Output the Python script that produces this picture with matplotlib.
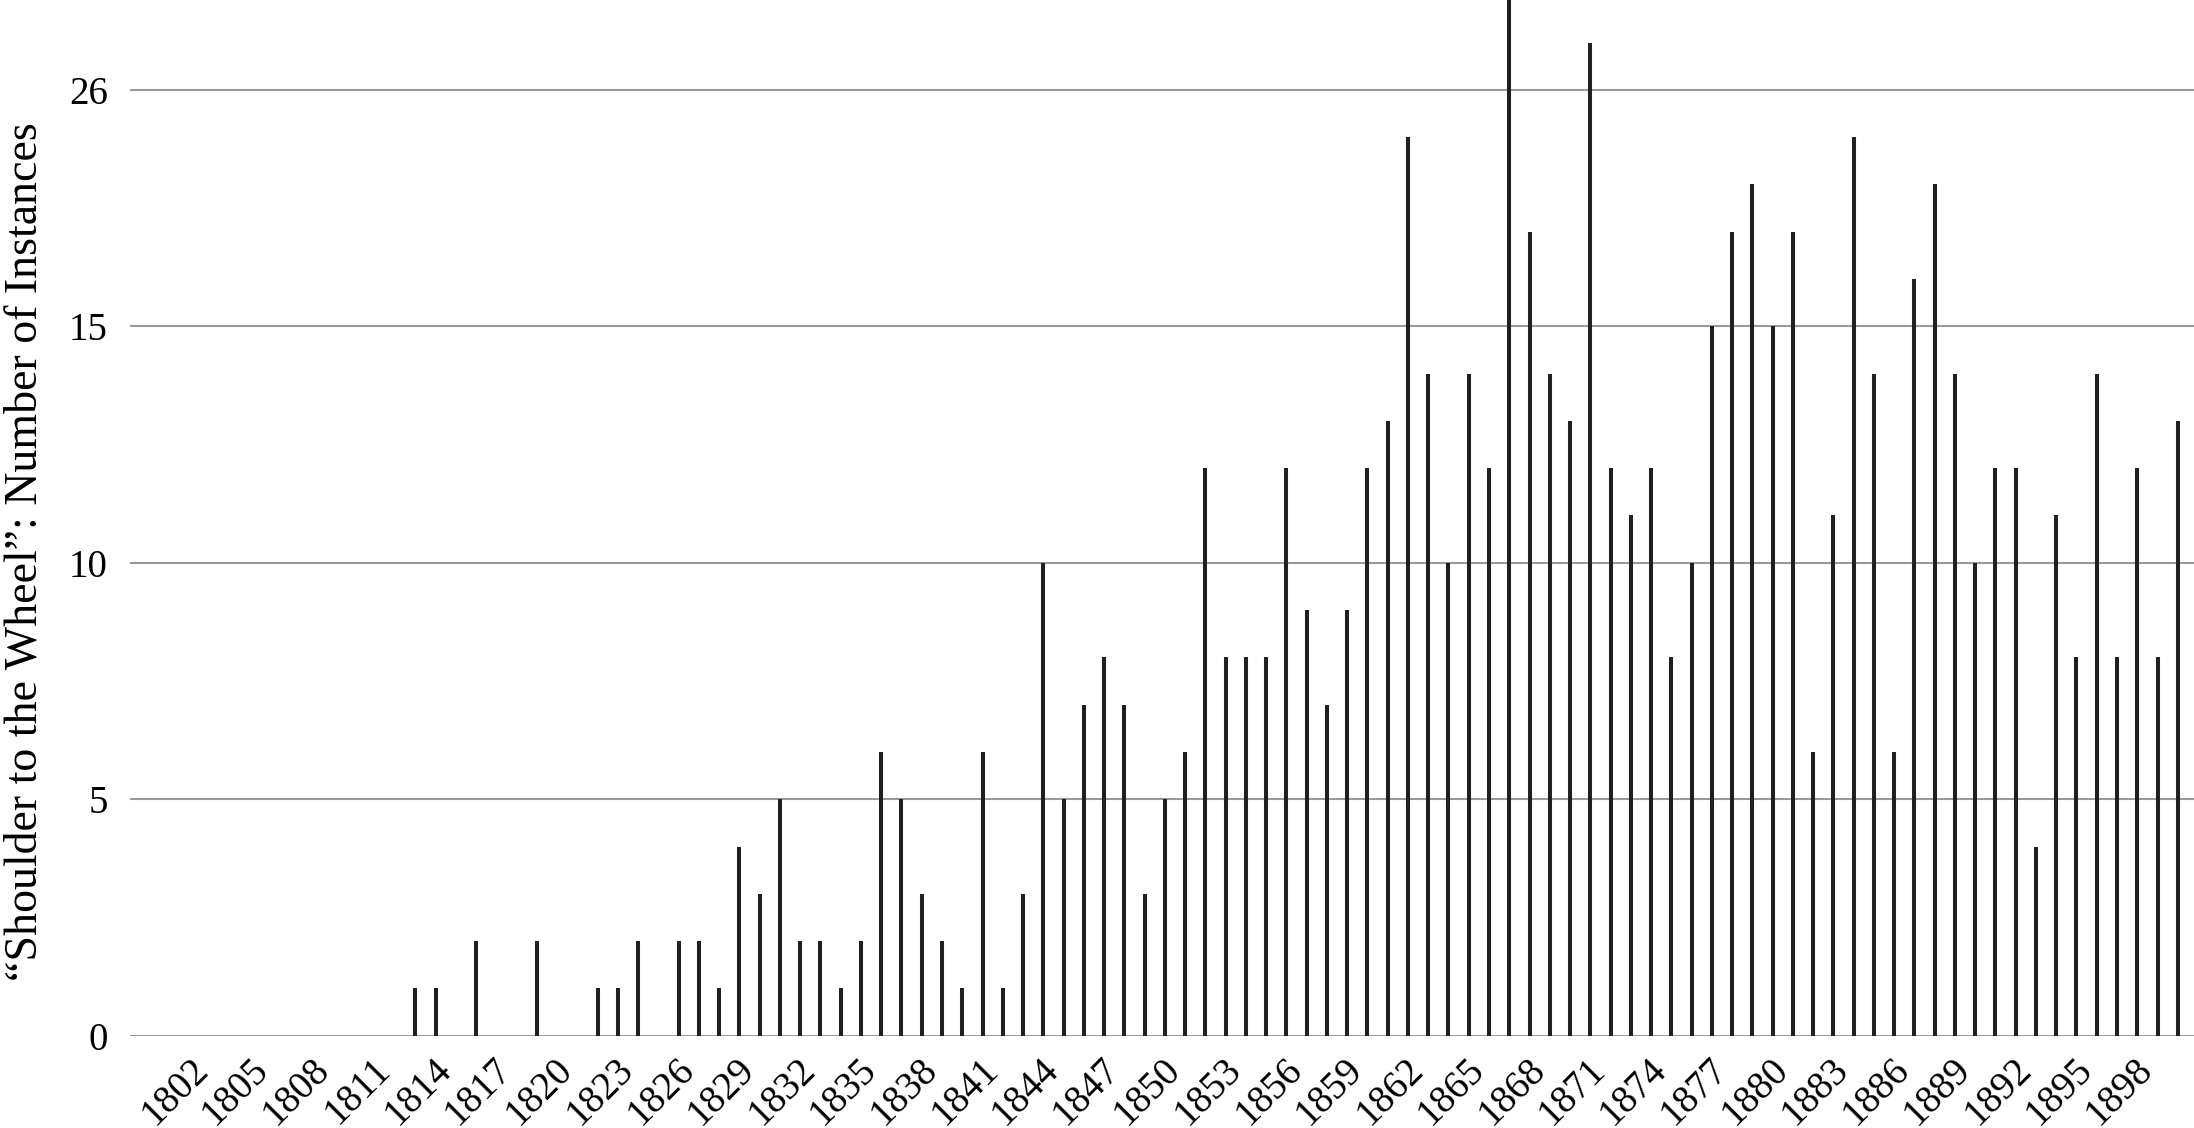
import matplotlib
matplotlib.use("Agg")
import matplotlib.pyplot as plt
import matplotlib.transforms as mtransforms
import numpy as np

# counts per year, 1802-1900
years = np.arange(1802, 1901)
counts = [0] * 11 + [  # 1802-1812
    1, 1, 0, 2, 0, 0, 2, 0, 0, 1,   # 1813-1822
    1, 2, 0, 2, 2, 1, 4, 3, 5, 2,   # 1823-1832
    2, 1, 2, 6, 5, 3, 2, 1, 6, 1,   # 1833-1842
    3, 10, 5, 7, 8, 7, 3, 5, 6, 12,  # 1843-1852
    8, 8, 8, 12, 9, 7, 9, 12, 13, 19,  # 1853-1862
    14, 10, 14, 12, 22, 17, 14, 13, 21, 12,  # 1863-1872
    11, 12, 8, 10, 15, 17, 18, 15, 17, 6,  # 1873-1882
    11, 19, 14, 6, 16, 18, 14, 10, 12, 12,  # 1883-1892
    4, 11, 8, 14, 8, 12, 8, 13,  # 1893-1900
]
xtick_years = list(range(1802, 1899, 3))
ytick_pos = [0, 5, 10, 15, 20]
ytick_labels = ["0", "5", "10", "15", "26"]
ylabel = "\u201cShoulder to the Wheel\u201d: Number of Instances"

plt.rcParams['font.family'] = ['Liberation Serif', 'DejaVu Serif']

fig = plt.figure(figsize=(21.94, 11.28), dpi=100)
ax = fig.add_axes([130 / 2194, (1128 - 1035.7) / 1128, (2194 - 130) / 2194, 1035.7 / 1128])

# thin bars drawn as vertical lines so every bar gets the same width
ax.vlines(years, 0, counts, color='#231f20', linewidth=2.9, zorder=3)

ax.set_xlim(1798.92, 1900.8)
ax.set_ylim(0, 21.9)

ax.set_yticks(ytick_pos)
ax.set_yticklabels(ytick_labels, fontsize=28)
ax.set_xticks(xtick_years)
ax.set_xticklabels([str(y) for y in xtick_years], fontsize=28, rotation=45,
                   ha='right', va='top', rotation_mode='anchor')
ax.tick_params(axis='x', length=0, pad=11)
ax.tick_params(axis='y', length=0, pad=16)

# nudge the rotated year labels so they end at their tick
offset = mtransforms.ScaledTranslation(-3 / 100, 0, fig.dpi_scale_trans)
for lbl in ax.get_xticklabels():
    lbl.set_transform(lbl.get_transform() + offset)

ax.grid(axis='y', color='#9a9a9a', linewidth=1.5, zorder=0)
ax.set_axisbelow(True)
for s in ax.spines.values():
    s.set_visible(False)

fig.text(25 / 2194, 1 - 552 / 1128, ylabel, rotation=90, fontsize=33,
         ha='center', va='center')

fig.savefig("out.png", dpi=100)
